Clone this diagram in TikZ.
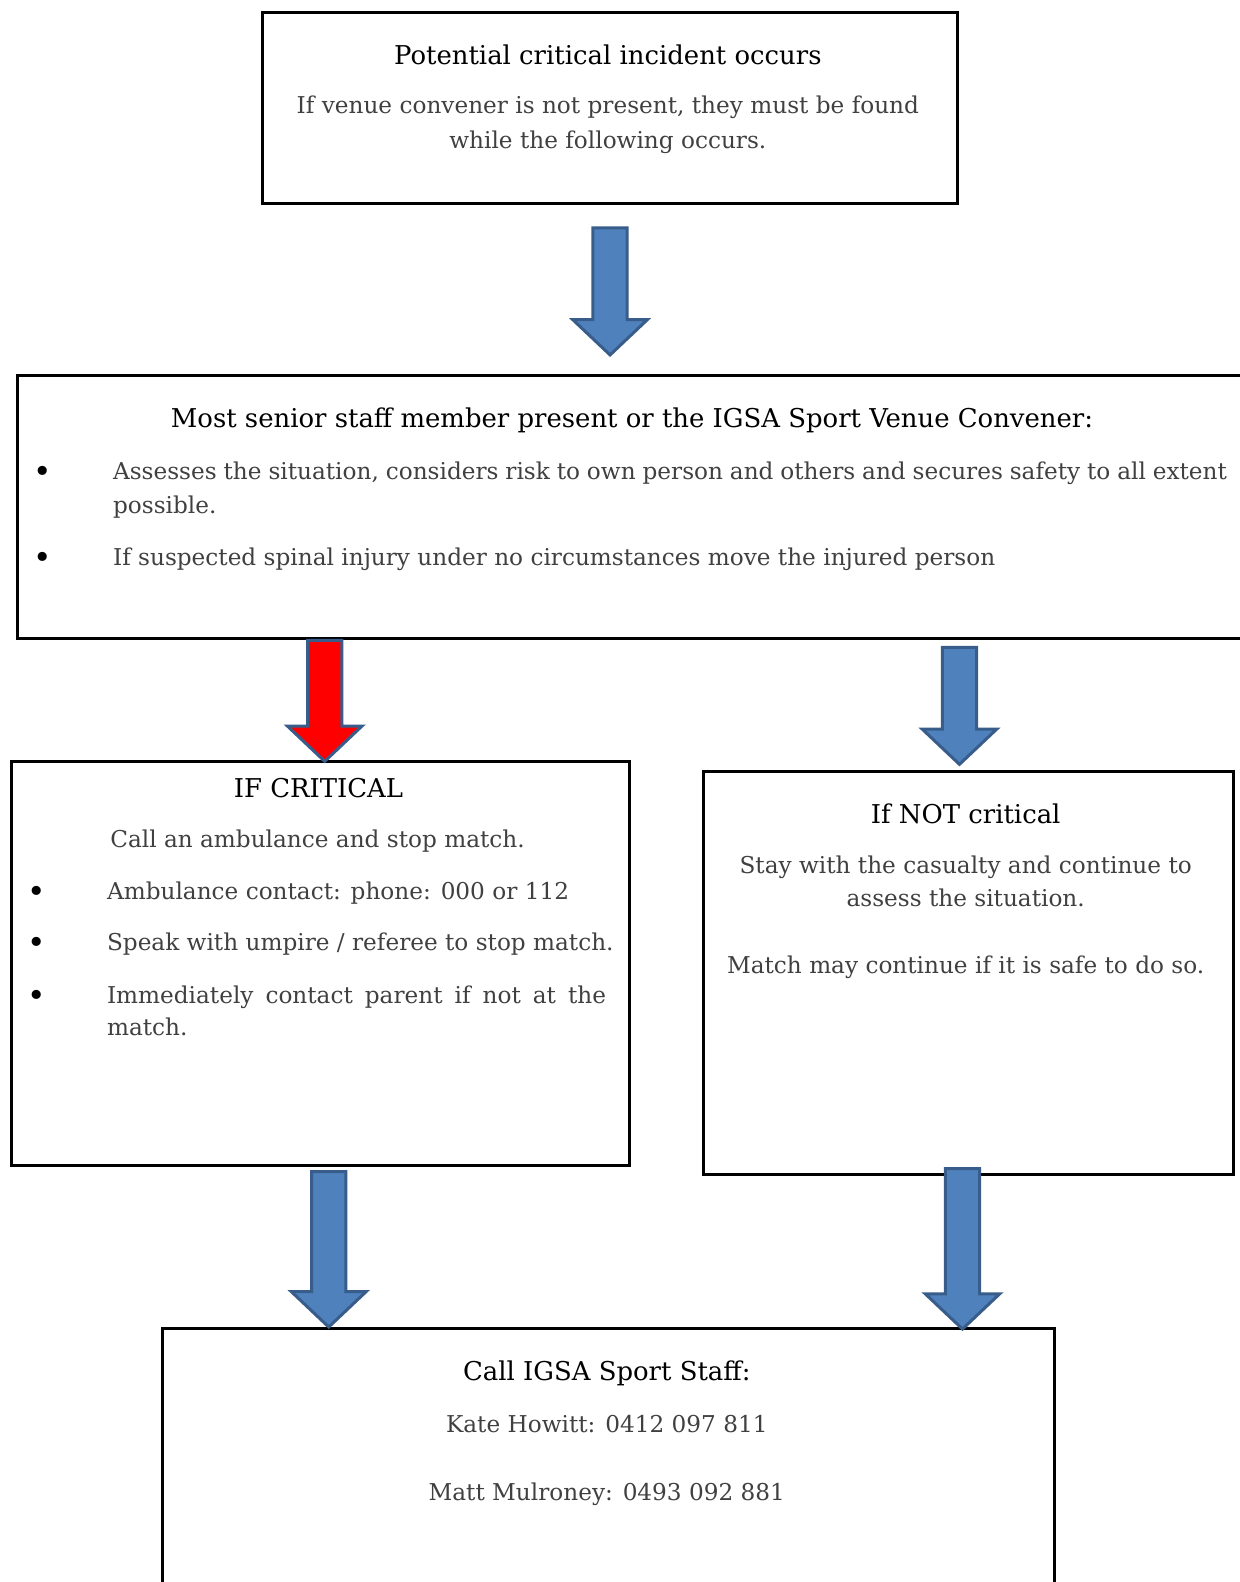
\documentclass[tikz,border=0pt]{standalone}
\usepackage{fontspec}
\setmainfont{DejaVu Serif}
\usetikzlibrary{calc}

\definecolor{bodygray}{HTML}{404040}
\definecolor{arrowblue}{HTML}{4F81BD}
\definecolor{arrowedge}{HTML}{385D8A}
\definecolor{arrowred}{HTML}{FF0000}

\newcommand{\headfont}{\fontsize{25.7}{32}\selectfont}
\newcommand{\bodyfont}{\fontsize{23}{34}\selectfont}
\newcommand{\dotfont}{\fontsize{31}{34}\selectfont}

% block arrow from (#2) down to its tip (#3)
\newcommand{\blockarrow}[3][arrowblue]{%
	\draw[arrowline, fill=#1] ($(#2)+(-17,0)$) -- ($(#3)+(-17,-35)$) -- ($(#3)+(-37,-35)$)
		-- (#3) -- ($(#3)+(37,-35)$) -- ($(#3)+(17,-35)$) -- ($(#2)+(17,0)$) -- cycle;}

\tikzset{
	box/.style={draw, line width=3pt, inner sep=0pt, anchor=north west},
	head/.style={font=\headfont, text=black, anchor=base, inner sep=0pt},
	body/.style={font=\bodyfont, text=bodygray, anchor=base, inner sep=0pt},
	item/.style={body, anchor=base west},
	dot/.style={font=\dotfont, text=black, anchor=base, inner sep=0pt},
	arrowline/.style={draw=arrowedge, line width=3pt, line join=miter}
}

\begin{document}
\begin{tikzpicture}[x=1pt,y=-1pt,scale=1.008,transform shape]
	\useasboundingbox (0,0) rectangle (1229.2,1569.4);
	% boxes
	\node[box, minimum width=689pt, minimum height=189pt] (incident) at (259,11) {};
	\node[box, minimum width=1240pt, minimum height=261pt] (senior) at (16,371) {};
	\node[box, minimum width=613pt, minimum height=401pt] (critical) at (10,754) {};
	\node[box, minimum width=526pt, minimum height=400pt] (notcrit) at (696,764) {};
	\node[box, minimum width=885pt, minimum height=300pt] (staff) at (160,1316) {};

	% first box
	\node[head] (t1) at (603,64) {Potential critical incident occurs};
	\node[body] (t1a) at (603,113) {If venue convener is not present, they must be found};
	\node[body] (t1b) at (603,147) {while the following occurs.};

	% second box
	\node[head] (t2) at (627,424) {Most senior staff member present or the IGSA Sport Venue Convener:};
	\node[dot] (d2a) at (42,479) {•};
	\node[item] (t2a) at (112,476) {\makebox[1105pt][s]{Assesses the situation, considers risk to own person and others and secures safety to all extent}};
	\node[item] (t2b) at (112,509) {possible.};
	\node[dot] (d2b) at (42,564) {•};
	\node[item] (t2c) at (112,561) {If suspected spinal injury under no circumstances move the injured person};

	% critical
	\node[head] (t3) at (316,791) {IF CRITICAL};
	\node[body] (t3a) at (315,841) {Call an ambulance and stop match.};
	\node[dot] (d3a) at (36,895) {•};
	\node[item] (t3b) at (106,892) {Ambulance contact: phone: 000 or 112};
	\node[dot] (d3b) at (36,946) {•};
	\node[item] (t3c) at (106,943) {Speak with umpire / referee to stop match.};
	\node[dot] (d3c) at (36,998) {•};
	\node[item] (t3d) at (106,995) {\makebox[495pt][s]{Immediately contact parent if not at the}};
	\node[item] (t3e) at (106,1027) {match.};

	% not critical
	\node[head] (t4) at (958,817) {If NOT critical};
	\node[body] (t4a) at (958,867) {Stay with the casualty and continue to};
	\node[body] (t4b) at (958,899) {assess the situation.};
	\node[body] (t4c) at (958,966) {Match may continue if it is safe to do so.};

	% staff
	\node[head] (t5) at (602,1369) {Call IGSA Sport Staff:};
	\node[body] (t5a) at (602,1421) {Kate Howitt: 0412 097 811};
	\node[body] (t5b) at (602,1489) {Matt Mulroney: 0493 092 881};

	% arrows
	\coordinate (a1s) at ($(incident.south)+(0,23)$);
	\coordinate (a1e) at ($(incident.south |- senior.north)+(0,-19)$);
	\coordinate (a2s) at ($(critical.north |- senior.south)+(4,0)$);
	\coordinate (a2e) at ($(critical.north)+(4,1)$);
	\coordinate (a3s) at ($(notcrit.north |- senior.south)+(-9,7)$);
	\coordinate (a3e) at ($(notcrit.north)+(-9,-6)$);
	\coordinate (a4s) at ($(critical.south)+(8,4)$);
	\coordinate (a4e) at ($(critical.south |- staff.north)+(8,0)$);
	\coordinate (a5s) at ($(notcrit.south)+(-6,-8)$);
	\coordinate (a5e) at ($(notcrit.south |- staff.north)+(-6,2)$);
	\blockarrow{a1s}{a1e}
	\blockarrow[arrowred]{a2s}{a2e}
	\blockarrow{a3s}{a3e}
	\blockarrow{a4s}{a4e}
	\blockarrow{a5s}{a5e}
\end{tikzpicture}
\end{document}
